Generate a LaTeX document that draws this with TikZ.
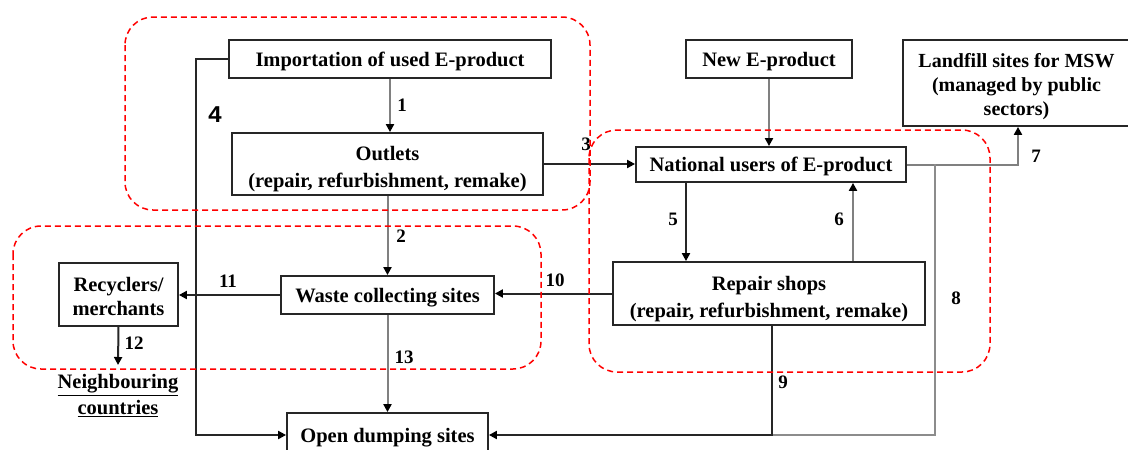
\documentclass[tikz,border=0pt]{standalone}
\usepackage{fontspec}
\setmainfont{Liberation Serif}
\newfontfamily\monofnt{Liberation Mono}
\usetikzlibrary{arrows.meta}
% invisible strut that lowers the first text line of a box
\newcommand\lift[1]{\rule{0pt}{#1}}

\begin{document}
\begin{tikzpicture}[x=1pt,y=-1pt,
  box/.style={draw=black!85, line width=1.8pt, inner sep=0pt, align=center,
    font=\fontsize{20.5}{27}\selectfont\bfseries},
  link/.style={line width=2pt, draw=black!85,
    -{Triangle[length=8pt,width=8pt,color=black]}},
  glink/.style={link, draw=black!50},
  gplain/.style={line width=2pt, draw=black!45},
  group/.style={draw=red, line width=1.5pt, dash pattern=on 6pt off 4pt,
    rounded corners=28pt},
  lbl/.style={inner sep=0pt, font=\fontsize{19}{19}\selectfont\bfseries}
]
\useasboundingbox (0,0) rectangle (1128,450);

% process boxes
\node[box, minimum width=322, minimum height=38] (imp)   at (390,59)    {\lift{20pt}Importation of used E-product};
\node[box, minimum width=311, minimum height=62] (out)   at (387.5,164) {\lift{25pt}Outlets\\(repair, refurbishment, remake)};
\node[box, minimum width=166, minimum height=38] (newp)  at (769,59)    {\lift{20pt}New E-product};
\node[box, minimum width=227, minimum height=86, font=\fontsize{20}{24}\selectfont\bfseries] (land) at (1016.5,83)
  {\lift{22pt}Landfill sites for MSW\\(managed by public\\sectors)};
\node[box, minimum width=270, minimum height=35] (nat)   at (771,164.5) {\lift{19pt}National users of E-product};
\node[box, minimum width=312, minimum height=63] (rep)   at (769,293.5) {\lift{25pt}Repair shops\\(repair, refurbishment, remake)};
\node[box, minimum width=213, minimum height=38] (waste) at (387.5,295)  {\lift{20pt}Waste collecting sites};
\node[box, minimum width=119, minimum height=63, font=\fontsize{20.5}{24.5}\selectfont\bfseries] (rec) at (118.5,294.5)
  {\lift{18pt}Recyclers/\\merchants};
\node[box, minimum width=201, minimum height=44] (dump)  at (387.5,435)  {\lift{20pt}Open dumping sites};
\node[inner sep=0pt, align=center, font=\fontsize{20.5}{26}\selectfont\bfseries] (neigh) at (118,396)
  {\underline{Neighbouring}\\\underline{countries}};

% columns of the vertical runs
\coordinate (c4) at (196,0);
\coordinate (c5) at (686,0);
\coordinate (c6) at (853,0);
\coordinate (c7) at (1018,0);
\coordinate (c8) at (935,0);
\coordinate (c9) at (772,0);
\coordinate (j8) at (935,164);
\coordinate (e12) at (118,365);

% flows
\draw[glink] (imp.south) -- (imp.south |- out.north);
\draw[glink] (out.south) -- (waste.north);
\draw[link]  (out.east) -- (out.east -| nat.west);
\draw[link]  (imp.west) -- (imp.west -| c4) -- (c4 |- dump.west) -- (dump.west);
\draw[glink] (newp.south) -- (newp.south |- nat.north);
\draw[link]  (nat.south -| c5) -- (rep.north -| c5);
\draw[glink] (rep.north -| c6) -- (nat.south -| c6);
\draw[glink] (nat.east) -- (nat.east -| c7) -- (c7 |- land.south);
\draw[gplain] (j8) -- (c8 |- dump.east) -- (c9 |- dump.east);
\draw[link]  (rep.south -| c9) -- (c9 |- dump.east) -- (dump.east);
\draw[link]  (rep.west) -- (rep.west -| waste.east);
\draw[link]  (waste.west) -- (waste.west -| rec.east);
\draw[link]  (rec.south) -- (e12);
\draw[glink] (waste.south) -- (dump.north);

% flow numbers
\node[lbl] (l1)  at (402,105) {1};
\node[lbl] (l2)  at (401,236) {2};
\node[lbl] (l3)  at (586,144) {3};
\node[inner sep=0pt, font=\fontsize{24}{24}\monofnt\bfseries] (l4) at (215,115) {4};
\node[lbl] (l5)  at (673,219) {5};
\node[lbl] (l6)  at (839,219) {6};
\node[lbl] (l7)  at (1036,156) {7};
\node[lbl] (l8)  at (956,298) {8};
\node[lbl] (l9)  at (783,382) {9};
\node[lbl] (l10) at (555,280) {10};
\node[lbl] (l11) at (228,281) {11};
\node[lbl] (l12) at (134,343) {12};
\node[lbl] (l13) at (404,357) {13};

% groupings
\draw[group] (125,17) rectangle (590,210);
\draw[group] (13,226) rectangle (541,369);
\draw[group] (589,130) rectangle (990,372);
\end{tikzpicture}
\end{document}
